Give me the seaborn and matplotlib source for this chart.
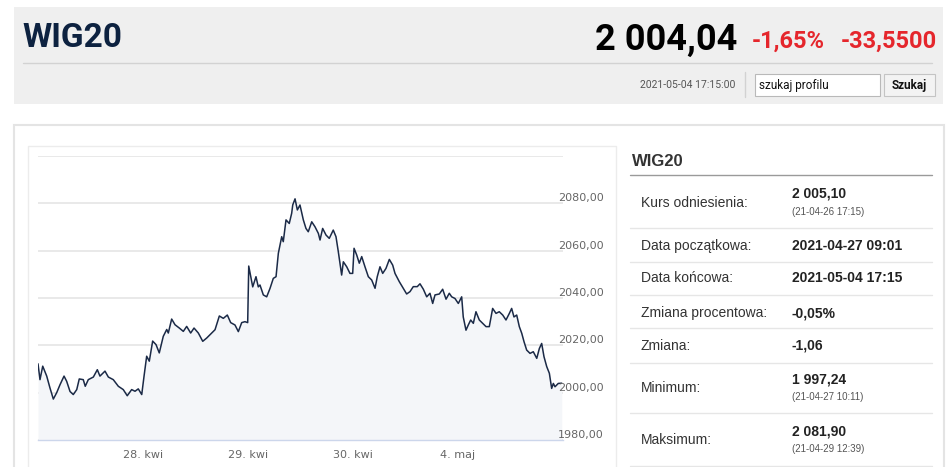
import numpy as np
import pandas as pd
import matplotlib
matplotlib.use("Agg")
import matplotlib.pyplot as plt
import matplotlib.transforms as mtransforms
from matplotlib.patches import Rectangle
import seaborn as sns

# --- data ---
# position in trading sessions counted from 2021-04-27 09:00 (1 = one session)
session_pos = [
    0.000, 0.019, 0.045, 0.083, 0.114, 0.146, 0.178, 0.210, 0.248, 0.273,
    0.305, 0.336, 0.369, 0.393, 0.431, 0.450, 0.479, 0.527, 0.565, 0.590,
    0.638, 0.670, 0.717, 0.765, 0.812, 0.850, 0.892, 0.924, 0.955, 0.988,
    1.010, 1.035, 1.060, 1.092, 1.124, 1.155, 1.193, 1.226, 1.241, 1.273,
    1.305, 1.346, 1.384, 1.416, 1.454, 1.486, 1.527, 1.569, 1.607, 1.654,
    1.686, 1.727, 1.765, 1.803, 1.835, 1.876, 1.908, 1.940, 1.971, 1.997,
    2.007, 2.026, 2.045, 2.076, 2.098, 2.114, 2.146, 2.178, 2.210, 2.241,
    2.267, 2.289, 2.321, 2.336, 2.362, 2.393, 2.416, 2.426, 2.448, 2.470,
    2.495, 2.527, 2.552, 2.574, 2.607, 2.638, 2.670, 2.686, 2.711, 2.743,
    2.774, 2.812, 2.838, 2.860, 2.892, 2.908, 2.940, 2.971, 2.997, 3.010,
    3.035, 3.060, 3.083, 3.114, 3.146, 3.178, 3.210, 3.231, 3.257, 3.283,
    3.314, 3.346, 3.378, 3.400, 3.441, 3.479, 3.511, 3.543, 3.574, 3.612,
    3.638, 3.670, 3.702, 3.733, 3.759, 3.781, 3.822, 3.854, 3.886, 3.917,
    3.940, 3.971, 4.003, 4.035, 4.050, 4.076, 4.098, 4.121, 4.146, 4.171,
    4.203, 4.235, 4.267, 4.298, 4.330, 4.362, 4.393, 4.426, 4.457, 4.489,
    4.511, 4.533, 4.559, 4.584, 4.607, 4.629, 4.654, 4.686, 4.717, 4.750,
    4.775, 4.797, 4.819, 4.845, 4.870, 4.892, 4.908, 4.924, 4.955, 4.988,
]
wig20 = [
    2012.2, 2005.5, 2011.2, 2007.0, 2002.0, 1997.3, 2000.0, 2003.4, 2007.0, 2004.8,
    2000.5, 1999.2, 2001.3, 2005.8, 2005.5, 2002.7, 2005.5, 2006.6, 2009.7, 2007.0,
    2009.1, 2006.6, 2005.5, 2002.7, 2001.3, 1998.7, 2001.3, 2000.6, 2001.6, 1999.2,
    2007.0, 2015.4, 2013.3, 2021.8, 2020.3, 2016.8, 2023.8, 2026.7, 2025.2, 2031.1,
    2028.7, 2027.3, 2025.9, 2028.0, 2025.2, 2027.3, 2025.2, 2021.7, 2023.1, 2025.2,
    2026.6, 2032.4, 2031.4, 2032.8, 2029.6, 2028.6, 2025.8, 2029.6, 2030.0, 2029.6,
    2053.5, 2049.0, 2044.7, 2049.0, 2044.7, 2045.5, 2041.3, 2040.5, 2044.1, 2048.3,
    2049.0, 2058.9, 2065.9, 2063.8, 2073.0, 2071.5, 2075.8, 2079.3, 2081.9, 2077.2,
    2079.3, 2073.0, 2069.4, 2068.0, 2072.2, 2070.1, 2067.3, 2064.5, 2069.4, 2066.6,
    2065.2, 2068.7, 2065.9, 2059.6, 2049.7, 2055.3, 2053.2, 2050.4, 2050.4, 2061.0,
    2058.2, 2054.7, 2057.5, 2053.2, 2049.0, 2047.6, 2044.1, 2049.0, 2053.2, 2050.4,
    2052.5, 2056.3, 2053.9, 2050.4, 2046.9, 2044.1, 2041.7, 2042.7, 2044.8, 2044.8,
    2046.0, 2043.7, 2040.5, 2042.0, 2037.7, 2041.3, 2041.7, 2043.7, 2039.5, 2042.0,
    2040.5, 2039.8, 2037.7, 2040.5, 2032.0, 2026.4, 2028.6, 2030.7, 2029.3, 2034.2,
    2030.7, 2029.3, 2027.9, 2027.9, 2035.6, 2033.5, 2034.2, 2032.8, 2030.7, 2033.5,
    2035.6, 2032.0, 2032.8, 2027.9, 2025.1, 2021.5, 2018.0, 2016.6, 2017.3, 2014.5,
    2018.7, 2020.8, 2015.2, 2011.0, 2008.2, 2001.8, 2003.9, 2002.5, 2003.9, 2004.0,
]

day_ticks = [1, 2, 3, 4]
day_labels = ["28. kwi", "29. kwi", "30. kwi", "4. maj"]
level_ticks = [1980, 2000, 2020, 2040, 2060, 2080, 2100]
level_labels = ["1980,00", "2000,00", "2020,00", "2040,00", "2060,00", "2080,00"]

panel_labels = ["Kurs odniesienia:", "Data początkowa:", "Data końcowa:",
                "Zmiana procentowa:", "Zmiana:", "Minimum:", "Maksimum:"]
panel_values = ["2 005,10", "2021-04-27 09:01", "2021-05-04 17:15",
                "-0,05%", "-1,06", "1 997,24", "2 081,90"]
panel_notes = ["(21-04-26 17:15)", "", "", "", "", "(21-04-27 10:11)", "(21-04-29 12:39)"]

df = pd.DataFrame({"pos": session_pos, "wig20": wig20})

sns.set_style("white")
plt.rcParams["font.family"] = ["Liberation Sans", "DejaVu Sans"]

W, H = 948, 467
fig = plt.figure(figsize=(W / 100, H / 100), dpi=100)
fig.patch.set_facecolor("white")

# page background / boxes in pixel coordinates
bg = fig.add_axes([0, 0, 1, 1])
bg.set_xlim(0, W)
bg.set_ylim(H, 0)
bg.axis("off")

bg.add_patch(Rectangle((14, 7), 929, 97, facecolor="#efefef", edgecolor="none"))
bg.plot([23, 932], [63, 63], color="#d2d2d2", lw=1)
bg.plot([745, 745], [72, 97], color="#d2d2d2", lw=1)
bg.add_patch(Rectangle((755, 74), 125, 22, facecolor="white", edgecolor="#b9b9b9", lw=0.8))
bg.add_patch(Rectangle((884, 74), 51, 22, facecolor="#f3f3f3", edgecolor="#c4c4c4", lw=0.8))

head = ["Roboto", "DejaVu Sans"]
bg.text(22, 47, "WIG20", fontsize=24, fontweight="bold", color="#0d2240",
        va="baseline", ha="left", family=head)
bg.text(737, 50, "2 004,04", fontsize=26, fontweight="bold", color="#000000",
        va="baseline", ha="right", family=head)
bg.text(752, 48, "-1,65%", fontsize=17, fontweight="bold", color="#e5262c",
        va="baseline", ha="left", family=head)
bg.text(937, 48, "-33,5500", fontsize=17, fontweight="bold", color="#e5262c",
        va="baseline", ha="right", family=head)
bg.text(735, 85, "2021-05-04 17:15:00", fontsize=7.5, color="#555555",
        va="center", ha="right", family=head)
bg.text(759, 85, "szukaj profilu", fontsize=8.5, color="#111111",
        va="center", ha="left", family=head)
bg.text(909.5, 85, "Szukaj", fontsize=8.5, fontweight="bold", color="#111111",
        va="center", ha="center", family=head)

# card + chart frame
bg.add_patch(Rectangle((14, 125), 930, 360, facecolor="white", edgecolor="#e4e4e4", lw=1.5))
bg.add_patch(Rectangle((28, 146), 588, 340, facecolor="white", edgecolor="#ececec", lw=1))

# right info panel
bg.text(632, 166, "WIG20", fontsize=12, fontweight="bold", color="#333333",
        va="baseline", ha="left")
bg.plot([630, 932], [175, 175], color="#9a9a9a", lw=1)
row_y = [203, 246, 278, 313, 346, 388, 440]
sep_y = [228, 262, 295, 328, 363, 413, 466]
for lab, val, note, y, s in zip(panel_labels, panel_values, panel_notes, row_y, sep_y):
    bg.text(641, y, lab, fontsize=10, color="#333333", va="center", ha="left")
    if note:
        bg.text(792, y - 9, val, fontsize=10, fontweight="bold", color="#222222",
                va="center", ha="left")
        bg.text(792, y + 9, note, fontsize=7, color="#555555", va="center", ha="left")
    else:
        bg.text(792, y, val, fontsize=10, fontweight="bold", color="#222222",
                va="center", ha="left")
    bg.plot([630, 932], [s, s], color="#e6e6e6", lw=1)

# --- the line chart ---
ax = fig.add_axes([38 / W, (H - 440) / H, 525 / W, 284 / H])
ax.set_facecolor("none")
ax.fill_between(df["pos"], df["wig20"], 1980, color="#f4f6f9", lw=0)
sns.lineplot(data=df, x="pos", y="wig20", ax=ax, color="#1b2a47", linewidth=1.1)
ax.set_xlim(0, 5)
ax.set_ylim(1980, 2100)
ax.set_xlabel("")
ax.set_ylabel("")

ax.set_yticks(level_ticks)
ax.tick_params(axis="y", length=0, labelleft=False)
ax.grid(axis="y", color="#e3e3e3", lw=1.1)
ax.grid(axis="x", visible=False)

ax.set_xticks(day_ticks)
ax.set_xticklabels(day_labels)
ax.tick_params(axis="x", length=6, width=1, color="#ccd6eb", labelsize=8,
               labelcolor="#666666", pad=1.5)
for lab in ax.get_xticklabels():
    lab.set_family("DejaVu Sans")

for side in ["top", "left", "right"]:
    ax.spines[side].set_visible(False)
ax.spines["bottom"].set_color("#ccd6eb")
ax.spines["bottom"].set_linewidth(1)

lab_tr = mtransforms.blended_transform_factory(ax.transAxes, ax.transData) + \
    mtransforms.ScaledTranslation(0, 5 / 100, fig.dpi_scale_trans)
for v, lab in zip(level_ticks, level_labels):
    ax.text(0.9905, v, lab, transform=lab_tr, ha="left", va="center",
            fontsize=8, color="#666666", family="DejaVu Sans", clip_on=False)

fig.savefig("out.png", dpi=100, facecolor="white")
